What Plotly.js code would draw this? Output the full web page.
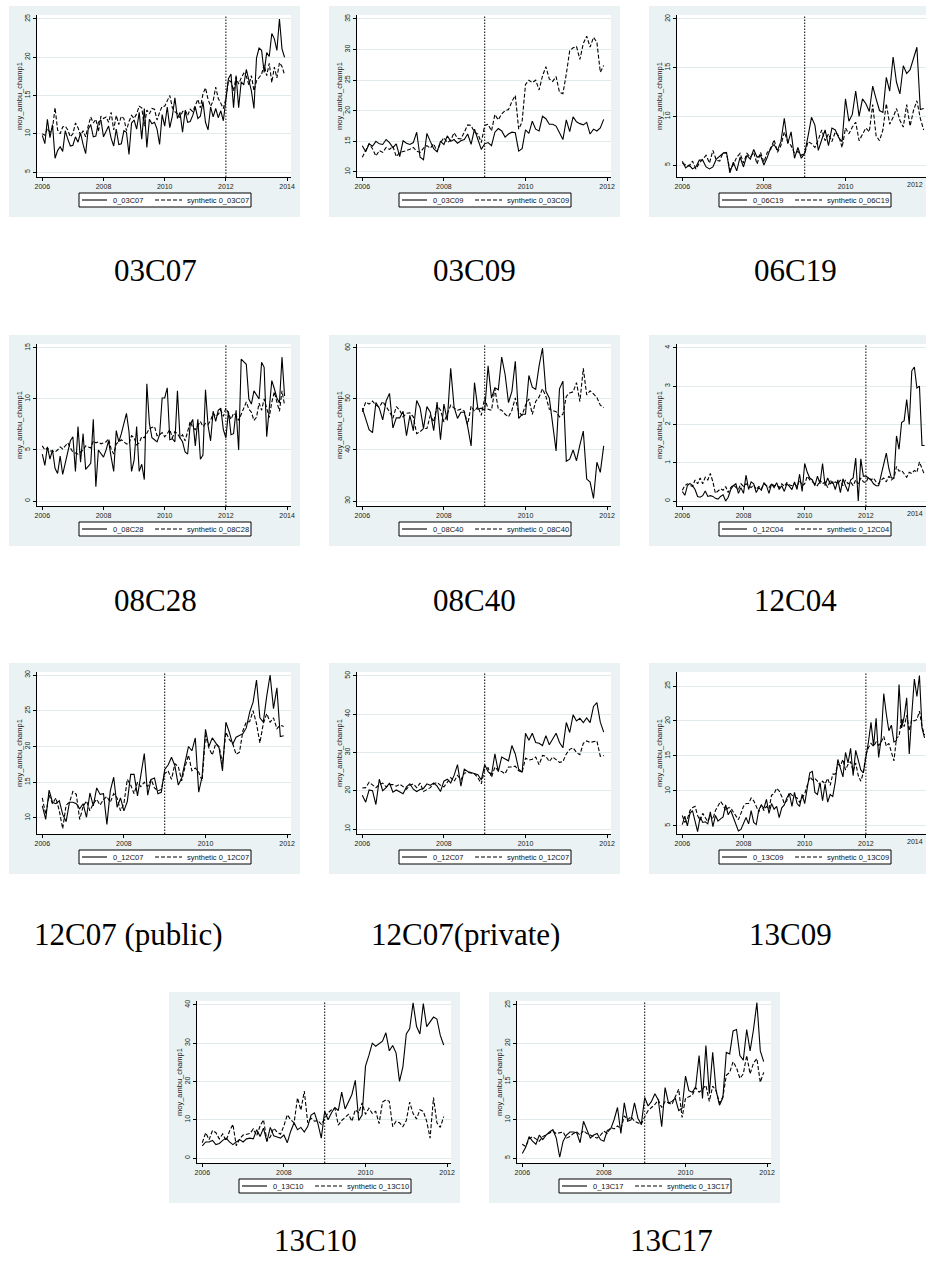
<!DOCTYPE html>
<html><head><meta charset="utf-8">
<script src="https://cdn.plot.ly/plotly-3.0.1.min.js"></script>
<style>html,body{margin:0;padding:0;background:#fff}#chart{width:926px;height:1266px}</style>
</head><body><div id="chart"></div>
<script>
// ---------------- DATA ----------------
const startYear = 2006;
const panelCodes = ['03C07','03C09','06C19','08C28','08C40','12C04','12C07','12C07','13C09','13C10','13C17'];
const captions = ['03C07','03C09','06C19','08C28','08C40','12C04','12C07 (public)','12C07(private)','13C09','13C10','13C17'];
const treatYear = [2012,2009,2009,2012,2009,2012,2009,2009,2012,2009,2009];
const lastTickYear = [2014,2012,2012,2014,2012,2014,2012,2012,2014,2012,2012];
const yTicks = [[5,10,15,20,25],[10,15,20,25,30,35],[5,10,15,20],[0,5,10,15],[30,40,50,60],[0,1,2,3,4],[10,15,20,25,30],[10,20,30,40,50],[5,10,15,20,25],[0,10,20,30,40],[5,10,15,20,25]];
const yAxisTitle = 'moy_ambu_champ1';

const actual_03C07 = [
 9.8,8.7,11.9,9.5,11.2,6.8,7.8,8.3,7.7,10.4,9.3,8.4,
 8.5,9.6,8.9,10.1,8.6,7.4,10.6,11.2,9.6,9.7,11.5,11.8,
 9.6,10.4,11.0,9.4,8.4,10.6,8.6,8.7,10.4,10.2,7.3,11.4,
 11.8,10.6,12.8,9.3,13.3,8.2,11.9,11.3,11.5,10.6,8.6,12.5,
 11.0,13.5,10.8,12.3,14.7,12.0,12.8,10.2,13.0,11.5,11.6,12.4,
 13.5,12.0,12.3,14.2,11.5,10.5,13.5,12.2,13.3,12.1,13.0,11.7,
 14.3,17.2,17.8,13.4,17.6,13.4,16.8,16.4,18.4,16.9,15.6,13.3,
 19.9,21.2,20.9,18.0,20.6,20.1,23.1,22.4,20.9,25.0,21.1,20.0];
const synthetic_03C07 = [
 10.0,9.8,10.7,10.2,10.7,13.4,10.5,10.0,10.9,11.0,10.5,9.6,
 10.0,11.4,10.8,9.8,10.4,9.6,11.0,12.2,11.4,11.9,10.3,12.3,
 12.0,12.2,11.5,12.8,10.5,12.4,11.2,12.3,12.0,10.4,11.6,12.4,
 12.0,12.6,13.6,13.4,11.0,13.1,12.6,13.3,13.2,11.8,12.8,13.6,
 13.6,14.2,15.0,13.4,12.9,12.6,12.1,12.9,13.1,12.4,13.2,12.9,
 13.7,14.5,13.4,15.2,16.0,14.5,13.6,14.3,16.1,14.6,14.0,13.3,
 14.6,17.0,16.8,15.6,17.4,16.5,17.3,17.9,17.5,16.4,17.6,15.6,
 16.9,17.4,17.8,19.0,17.6,19.2,16.7,18.7,17.3,19.3,18.8,17.7];

const actual_03C09 = [
 14.3,13.3,14.6,14.2,15.0,14.6,14.5,15.3,14.8,14.0,14.6,12.5,
 15.1,14.7,14.5,14.8,16.5,12.4,12.0,16.3,15.0,13.8,13.3,15.0,
 14.5,15.9,15.0,15.3,14.7,15.1,15.3,16.2,14.5,17.0,15.3,13.7,
 14.6,14.8,14.3,16.5,17.1,16.7,15.7,16.2,16.5,16.4,13.4,13.8,
 16.9,16.3,18.3,17.0,16.7,19.1,18.7,17.8,17.8,17.5,16.4,15.3,
 18.5,16.6,19.0,18.2,17.9,17.7,18.1,16.2,17.0,16.7,17.2,18.6];
const synthetic_03C09 = [
 12.4,13.4,14.6,13.8,12.6,13.5,13.2,14.0,13.7,14.2,12.5,13.2,
 13.3,13.5,13.7,14.0,13.4,13.2,13.9,14.3,13.9,14.6,13.3,14.8,
 15.6,14.8,15.2,16.4,15.5,15.4,16.5,17.7,17.6,16.5,16.2,14.8,
 17.6,17.8,16.7,19.4,18.5,19.5,20.0,20.2,21.5,22.5,17.0,18.2,
 24.3,25.0,24.6,25.0,23.4,25.7,27.2,25.2,24.8,25.6,23.0,22.8,
 26.0,29.8,30.3,30.5,28.4,31.0,32.2,30.4,32.0,31.2,26.3,27.4];

const actual_06C19 = [
 5.4,4.7,5.0,4.6,4.8,5.5,5.5,4.8,4.6,4.8,5.6,5.9,
 6.2,6.3,4.2,5.3,4.4,5.8,4.8,6.0,5.6,6.6,5.8,6.0,
 5.0,5.8,6.8,7.1,6.5,7.4,9.8,7.2,8.4,5.7,6.8,5.7,
 6.2,8.0,9.9,9.1,6.5,7.6,8.6,7.0,8.8,8.6,7.8,7.4,
 11.8,9.5,10.2,12.6,10.0,11.8,11.3,10.5,13.1,11.8,10.6,10.4,
 14.0,12.6,16.1,13.5,12.3,15.2,14.4,14.8,16.0,17.1,10.7,10.8];
const synthetic_06C19 = [
 5.2,5.0,4.9,5.4,4.6,5.2,5.6,6.0,5.2,6.5,5.5,5.4,
 6.3,6.2,4.5,5.0,5.8,6.2,5.2,6.2,5.8,6.3,5.1,6.3,
 5.3,6.3,6.6,7.6,6.3,7.0,8.4,7.4,7.0,6.2,6.4,6.0,
 6.2,7.4,7.2,6.8,7.6,8.6,7.5,8.2,7.4,8.4,8.0,6.8,
 8.8,8.2,8.9,9.4,7.5,8.2,8.8,8.4,11.2,8.0,7.5,8.6,
 11.3,9.2,9.9,10.8,9.6,8.9,11.2,9.0,10.6,11.6,9.8,8.6];

const actual_08C28 = [
 4.6,3.5,5.3,4.1,5.0,3.2,2.7,4.4,2.6,3.8,5.0,5.9,
 6.3,2.9,7.3,3.8,6.6,3.1,3.4,3.7,8.0,1.4,5.0,4.7,
 4.3,5.0,5.9,4.3,2.9,6.9,5.8,6.6,7.5,8.6,6.8,2.9,
 4.0,7.3,2.9,3.6,2.1,11.5,7.6,6.2,6.0,5.8,6.5,10.1,
 10.1,11.1,6.0,6.1,5.8,10.8,6.2,5.8,4.8,4.6,7.5,8.0,
 5.4,8.0,4.1,4.5,10.9,7.4,5.9,8.8,7.8,8.9,9.1,7.0,
 6.2,8.8,6.5,6.6,8.9,5.0,13.9,13.6,13.4,10.0,9.5,10.8,
 10.4,10.0,13.6,13.1,6.3,9.4,11.8,11.0,10.1,9.6,14.1,10.3];
const synthetic_08C28 = [
 5.4,5.0,5.2,4.9,4.9,4.8,5.0,5.3,5.1,5.4,5.7,5.2,
 4.8,4.7,4.6,4.8,5.0,5.4,5.3,5.2,5.9,5.7,5.8,5.6,
 5.7,5.8,6.1,5.1,4.6,5.6,5.8,6.0,5.8,5.6,5.6,6.4,
 6.2,5.5,5.7,6.3,6.2,6.7,7.1,7.2,7.3,6.4,6.5,6.7,
 6.3,6.6,7.0,6.2,6.8,6.6,6.2,6.5,5.9,6.8,7.8,7.2,
 7.0,7.4,7.8,7.3,7.6,7.5,7.9,8.6,8.3,8.5,8.9,8.3,
 9.1,8.6,8.0,8.6,8.4,7.9,8.5,9.2,9.7,9.0,8.7,7.9,
 8.2,9.6,8.9,10.0,9.2,8.2,9.7,10.7,9.7,8.8,10.8,9.4];

const actual_08C40 = [
 48.2,46.3,44.0,43.4,49.3,48.2,45.9,49.6,51.1,44.3,46.3,46.3,
 47.6,42.8,46.8,43.8,49.7,48.3,44.2,48.5,47.4,43.8,49.4,42.0,
 49.0,45.8,56.0,48.4,46.2,47.4,47.4,44.6,40.8,53.2,48.0,48.2,
 47.8,56.5,50.2,52.2,51.8,58.2,54.8,49.3,51.5,57.4,46.2,47.0,
 47.0,54.6,52.3,51.9,56.5,60.0,51.5,50.2,44.6,39.8,52.0,53.5,
 37.8,38.2,40.0,37.9,41.0,43.7,34.3,33.7,30.5,37.6,35.6,40.8];
const synthetic_08C40 = [
 47.5,49.4,49.0,49.6,48.8,48.4,49.5,48.6,47.5,46.2,48.5,47.8,
 46.5,47.2,47.3,46.5,43.2,43.6,44.2,44.2,46.8,45.5,48.7,47.8,
 45.5,47.0,48.8,48.2,47.8,48.0,47.6,45.0,48.6,47.6,48.5,46.8,
 50.2,48.0,47.8,52.0,48.0,47.8,47.0,46.5,47.8,50.2,47.4,46.8,
 48.8,50.0,47.0,49.5,50.4,52.0,50.5,48.0,47.8,47.5,46.5,47.0,
 50.5,51.2,51.4,53.2,49.5,56.0,50.8,51.6,51.0,50.3,48.8,48.3];

const actual_12C04 = [
 0.25,0.15,0.40,0.46,0.40,0.30,0.12,0.10,0.14,0.26,0.12,0.14,
 0.12,0.07,0.05,0.12,0.16,0.00,0.10,0.30,0.40,0.45,0.20,0.35,
 0.20,0.68,0.30,0.50,0.45,0.22,0.35,0.28,0.48,0.40,0.20,0.45,
 0.35,0.48,0.30,0.40,0.25,0.45,0.38,0.30,0.50,0.30,0.70,0.25,
 0.98,0.75,0.60,0.55,0.40,0.65,0.45,0.98,0.40,0.60,0.45,0.50,
 0.30,0.55,0.22,0.58,0.40,0.25,0.55,0.60,1.12,0.00,1.10,0.65,
 0.65,0.60,0.55,0.45,0.40,0.40,0.70,0.95,1.25,0.85,0.60,0.60,
 1.70,1.35,2.05,2.10,2.65,2.00,3.40,3.50,2.95,3.00,1.45,1.45];
const synthetic_12C04 = [
 0.28,0.40,0.45,0.42,0.38,0.55,0.45,0.60,0.45,0.62,0.55,0.72,
 0.50,0.20,0.25,0.32,0.28,0.38,0.22,0.35,0.42,0.35,0.30,0.45,
 0.38,0.45,0.40,0.35,0.42,0.30,0.38,0.32,0.45,0.40,0.35,0.45,
 0.40,0.42,0.35,0.45,0.38,0.48,0.42,0.40,0.45,0.38,0.55,0.40,
 0.45,0.65,0.55,0.50,0.45,0.40,0.55,0.45,0.50,0.35,0.55,0.45,
 0.50,0.45,0.55,0.40,0.55,0.45,0.50,0.40,0.55,0.45,0.60,0.50,
 0.48,0.62,0.55,0.60,0.50,0.45,0.55,0.60,0.50,0.65,0.55,0.60,
 0.90,0.78,0.80,0.70,0.62,0.75,0.72,0.80,0.75,1.02,0.85,0.68];

const actual_12C07_public = [
 11.7,9.8,13.9,12.2,12.0,12.4,10.5,9.5,12.2,12.2,12.0,11.3,
 12.0,10.1,13.5,11.7,14.2,13.3,13.4,9.1,13.8,15.7,11.5,12.8,
 11.0,12.3,16.1,16.1,13.1,15.9,19.0,13.2,15.4,15.6,13.4,13.6,
 16.8,17.4,18.5,17.3,14.6,15.6,17.8,20.0,19.4,21.2,13.6,15.8,
 22.4,20.0,21.2,20.4,19.8,16.6,23.4,22.0,20.3,21.3,21.6,21.8,
 22.6,24.8,26.2,29.3,24.0,23.4,27.0,30.0,25.3,28.2,21.4,21.5];
const synthetic_12C07_public = [
 12.8,10.5,13.2,12.0,12.8,11.0,8.5,11.8,12.2,13.7,13.3,9.8,
 11.6,12.4,11.0,12.0,12.6,11.8,12.6,13.0,12.2,13.4,12.8,11.0,
 12.0,15.4,14.6,13.4,15.0,14.4,15.0,14.4,15.4,14.2,13.8,14.0,
 16.2,16.6,15.4,17.6,17.2,15.2,17.2,18.8,16.6,17.0,16.4,15.2,
 21.6,19.8,18.8,20.4,20.0,17.6,22.0,21.0,20.4,18.9,19.2,22.2,
 23.4,23.5,25.0,23.2,20.5,23.2,24.6,23.4,24.0,22.5,23.0,22.8];

const actual_12C07_private = [
 18.8,17.0,20.2,20.0,16.4,23.0,20.0,20.8,22.0,19.6,20.2,19.6,
 19.2,21.0,21.8,20.4,19.8,20.3,20.6,21.8,21.4,22.0,21.2,19.8,
 22.5,23.0,22.0,24.0,26.8,21.2,25.6,25.0,24.8,24.6,24.2,22.8,
 26.8,25.0,24.2,29.6,25.0,28.8,28.4,27.8,31.8,29.6,25.6,24.8,
 35.0,33.2,35.0,32.6,32.4,31.8,34.4,32.0,33.5,35.0,32.6,31.2,
 37.8,35.2,39.8,38.2,38.9,37.8,39.0,37.8,42.0,43.0,37.9,35.3];
const synthetic_12C07_private = [
 20.7,20.8,22.2,21.4,20.8,21.6,22.0,21.0,21.6,21.6,21.2,21.7,
 21.0,20.4,21.4,21.8,20.8,22.0,19.8,20.4,20.8,21.8,22.2,21.4,
 21.0,22.2,23.4,22.4,24.0,22.8,24.6,24.8,24.5,24.4,23.4,21.8,
 25.6,26.0,23.5,26.2,25.2,25.0,24.4,26.2,26.2,26.4,25.2,24.8,
 28.5,28.0,28.2,28.8,26.8,29.2,29.0,27.6,28.8,28.2,27.4,27.6,
 29.6,30.8,31.2,30.0,29.4,32.4,33.0,32.6,32.8,33.0,29.0,29.2];

const actual_13C09 = [
 5.2,6.4,5.0,6.8,7.2,5.5,4.2,6.3,5.5,5.6,5.3,7.0,
 4.9,6.5,5.7,6.0,6.3,8.0,6.6,7.2,6.2,5.0,4.3,4.5,
 5.5,6.2,5.3,7.2,5.5,5.2,7.3,8.0,7.5,8.8,6.8,8.2,
 7.4,7.8,6.2,7.6,8.0,9.0,9.6,7.8,9.8,8.2,7.8,9.5,
 8.2,10.3,12.6,12.8,9.8,9.5,11.2,8.6,11.0,8.4,9.5,9.2,
 11.3,14.5,13.4,12.0,15.5,14.0,16.1,12.2,15.8,14.5,13.0,12.6,
 14.6,17.0,19.8,16.4,20.4,14.8,17.5,23.9,21.0,18.6,19.4,17.0,
 17.2,25.2,19.0,20.6,23.3,15.3,21.0,26.0,23.5,26.5,19.0,17.6];
const synthetic_13C09 = [
 6.5,5.5,6.0,7.2,7.6,7.8,6.5,5.8,6.8,6.2,5.6,6.5,
 6.0,7.2,7.8,8.5,8.0,7.2,7.6,7.6,7.0,6.4,5.9,6.8,
 7.8,8.2,8.2,9.0,8.6,7.8,7.0,8.0,7.2,7.8,7.4,9.4,
 9.6,10.4,10.0,9.2,8.2,8.6,9.8,9.4,9.2,9.0,8.4,9.0,
 9.6,10.8,12.0,11.6,11.8,11.4,10.8,11.4,11.0,11.8,10.8,12.4,
 12.4,13.8,13.6,14.5,13.0,13.8,14.2,12.8,14.0,12.2,11.4,12.6,
 15.2,16.2,16.8,16.4,17.0,16.5,17.0,17.8,16.4,16.8,15.6,14.3,
 17.6,17.8,20.4,19.2,20.8,18.6,20.2,20.0,20.2,21.4,19.2,18.0];

const actual_13C10 = [
 3.2,4.2,4.2,4.6,3.5,3.8,4.6,5.2,4.2,3.5,4.2,4.8,
 4.2,5.0,5.2,5.0,7.4,5.6,7.8,4.3,8.0,5.8,5.5,5.2,
 6.0,4.0,7.0,9.2,7.4,8.0,6.8,8.2,11.2,11.8,9.0,5.2,
 12.2,10.0,11.8,13.2,12.4,17.2,12.8,14.8,16.6,20.3,9.8,11.2,
 24.0,26.8,30.0,29.2,29.8,30.5,32.7,28.0,29.4,27.4,20.0,23.8,
 32.4,33.8,40.5,34.4,32.4,40.3,34.3,35.6,36.8,36.3,32.0,29.5];
const synthetic_13C10 = [
 4.0,6.6,4.8,7.2,6.6,5.0,6.3,4.5,7.0,8.8,3.2,5.0,
 6.0,6.2,6.4,7.6,5.8,8.4,10.0,4.5,5.5,7.8,6.8,6.2,
 8.4,11.3,10.0,9.2,15.7,12.5,17.5,9.2,10.4,9.6,9.8,8.8,
 10.2,11.8,12.6,13.0,8.6,9.8,10.6,11.4,9.6,12.6,11.8,14.4,
 11.4,13.0,11.6,12.2,9.0,14.6,15.2,14.8,8.2,9.6,9.2,8.2,
 9.8,14.6,11.6,10.2,12.6,12.2,9.6,5.2,15.8,9.2,8.0,10.8];

const actual_13C17 = [
 5.6,6.4,7.8,7.2,6.8,8.0,7.4,8.0,8.4,8.7,7.6,5.1,
 7.2,8.0,8.4,8.4,8.3,7.0,9.8,8.6,7.6,8.0,8.2,7.4,
 7.2,8.6,8.8,10.0,11.6,8.2,12.2,9.8,10.0,12.2,10.2,9.4,
 12.9,11.8,12.4,13.4,12.6,9.1,14.2,12.2,12.4,12.8,11.2,11.5,
 15.7,13.8,13.6,14.3,18.4,12.8,19.7,13.4,18.8,13.8,11.9,12.9,
 18.8,18.6,21.6,21.8,18.4,17.8,21.8,19.0,21.8,25.3,19.0,17.6];
const synthetic_13C17 = [
 6.8,6.5,7.5,7.8,7.5,7.2,7.8,8.0,8.3,8.5,8.2,8.3,
 8.4,7.6,7.8,8.2,8.4,8.0,8.6,8.2,8.0,7.8,7.6,8.0,
 8.5,8.2,9.0,8.8,9.2,8.8,10.5,10.0,10.4,9.8,9.6,9.4,
 10.4,11.2,11.6,12.0,12.6,11.6,12.4,12.2,12.0,13.0,14.0,10.3,
 12.8,13.0,13.2,14.2,13.6,14.0,14.5,12.4,14.4,13.8,12.2,13.0,
 15.8,16.2,17.6,16.8,15.4,16.0,18.4,16.0,17.4,18.0,14.9,16.2];

const actualSeries = [actual_03C07, actual_03C09, actual_06C19, actual_08C28, actual_08C40, actual_12C04,
  actual_12C07_public, actual_12C07_private, actual_13C09, actual_13C10, actual_13C17];
const syntheticSeries = [synthetic_03C07, synthetic_03C09, synthetic_06C19, synthetic_08C28, synthetic_08C40, synthetic_12C04,
  synthetic_12C07_public, synthetic_12C07_private, synthetic_13C09, synthetic_13C10, synthetic_13C17];

// ---------------- LAYOUT ----------------
const W = 926, H = 1266;
const panelBox = [[9,6],[329,6],[649,6],[9,335],[329,335],[649,335],[9,663],[329,663],[649,663],[169,992],[489,992]];
const yRanges = [[4.35,25.52],[9.18,35.65],[3.77,20.41],[-0.49,15.39],[29.02,60.78],[-0.13,4.10],[7.76,30.42],[8.7,51.0],[3.85,27.0],[-1.3,41.0],[4.35,25.52]];
const captionPos = [[155,270],[475,270],[795,270],[155,600],[475,600],[795,600],[128,935],[465,935],[790,935],[315,1240],[671,1240]];
const BG = '#EAF2F3', GRID = '#E1EAEC';
const sansFont = 'Liberation Sans, Arial, sans-serif';
const px = x => x / W, py = y => 1 - y / H;

const traces = [], shapes = [], annotations = [];
const layout = {
  width: W, height: H, autosize: false,
  margin: {l:0, r:0, t:0, b:0, pad:0},
  paper_bgcolor: '#ffffff', plot_bgcolor: 'rgba(0,0,0,0)',
  showlegend: false, shapes, annotations,
  font: {family: sansFont, size: 7, color: '#222'}
};

panelBox.forEach(([L, T], i) => {
  const k = i + 1, s = k === 1 ? '' : String(k);
  const xRef = 'x' + s, yRef = 'y' + s;
  const nYears = lastTickYear[i] - startYear;
  const pxPerYear = 244.8 / nYears;
  const axL = L + 28, x2006 = L + 33.3;
  let axR = L + 282;
  const lo = startYear - (x2006 - axL) / pxPerYear;
  let hi = startYear + (axR - x2006) / pxPerYear;
  if (axR > W) { axR = W; hi = startYear + (W - x2006) / pxPerYear; }
  const top = T + 9, bot = T + 171;

  // panel background + plot region
  shapes.push({type:'rect', xref:'paper', yref:'paper', x0:px(L), x1:px(L+291), y0:py(T+211), y1:py(T), fillcolor:BG, line:{width:0}, layer:'below'});
  shapes.push({type:'rect', xref:'paper', yref:'paper', x0:px(axL), x1:px(L+282), y0:py(bot), y1:py(top), fillcolor:'#ffffff', line:{width:0}, layer:'below'});

  const xt = [];
  for (let y = startYear; y <= lastTickYear[i]; y += 2) xt.push(y);
  layout['xaxis' + s] = {
    domain: [px(axL), px(axR)], range: [lo, hi], anchor: yRef,
    tickvals: xt, ticktext: xt.map(String), ticks: 'outside', ticklen: 3, tickcolor: '#000', tickwidth: 1,
    showline: true, linecolor: '#000', linewidth: 1, showgrid: false, zeroline: false,
    tickfont: {family: sansFont, size: 7, color: '#222'}, fixedrange: true
  };
  layout['yaxis' + s] = {
    domain: [py(bot), py(top)], range: yRanges[i], anchor: xRef,
    tickvals: yTicks[i], ticktext: yTicks[i].map(String), tickangle: -90,
    ticks: 'outside', ticklen: 3, tickcolor: '#000', tickwidth: 1,
    showline: true, linecolor: '#000', linewidth: 1,
    showgrid: true, gridcolor: GRID, gridwidth: 1, zeroline: false,
    tickfont: {family: sansFont, size: 7, color: '#222'}, fixedrange: true
  };

  const act = actualSeries[i], syn = syntheticSeries[i];
  const xs = act.map((_, m) => startYear + m / 12);
  traces.push({type:'scatter', mode:'lines', x: xs, y: act, xaxis: xRef, yaxis: yRef,
    name: '0_' + panelCodes[i], line: {color:'#000', width:1.1}, hoverinfo:'skip'});
  traces.push({type:'scatter', mode:'lines', x: xs, y: syn, xaxis: xRef, yaxis: yRef,
    name: 'synthetic 0_' + panelCodes[i], line: {color:'#000', width:1.1, dash:'4px,2px'}, hoverinfo:'skip'});

  // treatment line
  shapes.push({type:'line', xref: xRef, yref: yRef + ' domain', x0: treatYear[i], x1: treatYear[i], y0: 0, y1: 1,
    line: {color:'#000', width:1, dash:'1.5px,1.5px'}});

  // last tick label of panels cut by the page edge (kept fully visible)
  if (L + 282 > W) {
    annotations.push({xref:'paper', yref:'paper', x: px(W - 1), y: py(T + 178), text: String(lastTickYear[i]),
      showarrow:false, xanchor:'right', yanchor:'middle', font:{family:sansFont, size:7, color:'#222'}});
  }

  // y title
  annotations.push({xref:'paper', yref:'paper', x: px(L + 10), y: py(T + 90), text: yAxisTitle, textangle: -90,
    showarrow:false, xanchor:'center', yanchor:'middle', font:{family:sansFont, size:7.5, color:'#222'}});

  // legend box (drawn by hand, Stata style)
  shapes.push({type:'rect', xref:'paper', yref:'paper', x0:px(L+70), x1:px(L+242), y0:py(T+201), y1:py(T+187),
    fillcolor:'#ffffff', line:{color:'#000', width:1}});
  shapes.push({type:'line', xref:'paper', yref:'paper', x0:px(L+73), x1:px(L+98), y0:py(T+194), y1:py(T+194),
    line:{color:'#000', width:1.1}});
  shapes.push({type:'line', xref:'paper', yref:'paper', x0:px(L+146), x1:px(L+173), y0:py(T+194), y1:py(T+194),
    line:{color:'#000', width:1.1, dash:'4px,2px'}});
  annotations.push({xref:'paper', yref:'paper', x: px(L+102), y: py(T+194), text: '0_' + panelCodes[i],
    showarrow:false, xanchor:'left', yanchor:'middle', font:{family:sansFont, size:7.5, color:'#111'}});
  annotations.push({xref:'paper', yref:'paper', x: px(L+176), y: py(T+194), text: 'synthetic 0_' + panelCodes[i],
    showarrow:false, xanchor:'left', yanchor:'middle', font:{family:sansFont, size:7.5, color:'#111'}});

  // caption
  annotations.push({xref:'paper', yref:'paper', x: px(captionPos[i][0]), y: py(captionPos[i][1]), text: captions[i],
    showarrow:false, xanchor:'center', yanchor:'middle', font:{family:'Liberation Serif, DejaVu Serif, serif', size:31, color:'#000'}});
});

Plotly.newPlot('chart', traces, layout, {staticPlot: true, displayModeBar: false});
</script>
</body></html>
